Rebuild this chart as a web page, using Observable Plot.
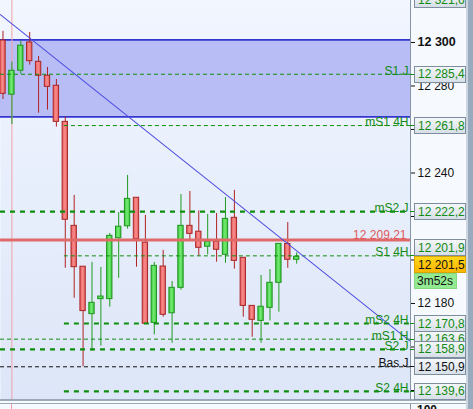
<!DOCTYPE html>
<html><head><meta charset="utf-8">
<script src="https://cdn.jsdelivr.net/npm/d3@7"></script>
<script src="https://cdn.jsdelivr.net/npm/@observablehq/plot@0.6"></script>
<style>
html,body{margin:0;padding:0;background:#f6f9fe;}
#chart{position:relative;width:473px;height:409px;overflow:hidden;}
svg{display:block;}
</style></head><body><div id="chart"></div>
<script>
// ---- Data ----
const opens  = [12300.9,12276.0,12287.0,12300.0,12291.1,12284.7,12280.1,12263.5,12215.7,12196.9,12175.1,12182.0,12182.0,12210.0,12215.5,12228.6,12208.0,12171.1,12197.0,12175.5,12187.2,12215.7,12213.0,12206.1,12208.4,12202.4,12219.4,12201.0,12178.9,12172.0,12178.0,12189.5,12207.4,12200.1];
const highs  = [12305.1,12291.0,12300.5,12304.6,12293.6,12288.5,12283.0,12265.7,12229.7,12196.9,12198.9,12196.6,12212.2,12221.8,12238.9,12228.6,12220.5,12198.9,12204.4,12190.1,12230.1,12231.5,12222.6,12220.9,12221.4,12228.7,12232.0,12201.0,12178.9,12192.9,12195.6,12207.4,12217.2,12203.3];
const lows   = [12273.8,12262.3,12285.4,12289.6,12267.5,12268.9,12261.1,12196.2,12182.4,12150.9,12158.1,12160.4,12178.3,12191.6,12214.2,12196.7,12170.7,12165.6,12173.7,12161.7,12186.1,12209.0,12201.7,12202.4,12199.0,12198.5,12195.8,12173.7,12164.5,12161.7,12172.0,12176.0,12196.2,12198.1];
const closes = [12276.4,12287.0,12298.5,12291.4,12284.7,12279.6,12263.5,12218.5,12196.7,12176.5,12180.3,12183.2,12211.1,12215.3,12228.1,12209.6,12170.7,12197.3,12174.8,12187.2,12215.7,12212.0,12205.6,12208.4,12204.7,12218.9,12199.6,12178.9,12172.5,12178.5,12189.5,12207.4,12200.1,12201.5];

const levelNames  = ["S1 J","mS1 4H","mS2 J","S1 4H","mS2 4H","mS1 H","S2 J","Bas J","S2 4H"];
const levelValues = [12285.4,12261.8,12222.2,12201.9,12170.8,12163.6,12158.9,12150.9,12139.6];
const resistanceValue = 12321.6;
const redLineValue = 12209.21;
const lastPrice = 12201.5;
const countdown = "3m52s";
const zoneLow = 12265.8, zoneHigh = 12301.2;
const trendIdx = [-0.3, 45.8];
const trendVal = [12312.8, 12162.5];
const sessionStartIdx = 1;   // vertical session separator
const fourHourStartIdx = 7;  // 4H levels begin at this candle
const yTicks = [12140,12160,12180,12200,12220,12240,12260,12280];
const yBoldTicks = [12300];

// ---- Build tables ----
const candles = opens.map((o,i)=>({i, open:o, high:highs[i], low:lows[i], close:closes[i]}));
const up = candles.filter(d=>d.close>=d.open);
const down = candles.filter(d=>d.close<d.open);
const levels = levelNames.map((n,k)=>({name:n, value:levelValues[k],
  thick:n.includes("2"), black:n.startsWith("Bas"), fourH:n.endsWith("4H")}));
const trend = trendIdx.map((x,k)=>({x, y:trendVal[k]}));

const GREEN = "#0d8f0d", GREEN_TXT = "#138a13";
const loc = d3.formatLocale({decimal:",", thousands:" ", grouping:[3], currency:["",""]});
const f0 = loc.format(",.0f"), f1 = loc.format(",.1f"), f2 = loc.format(",.2f");
const xMax = 45.79;

const lvlMarks = (sel, opts) => Plot.ruleY(sel, {y:"value", x1: d=>d.fourH ? fourHourStartIdx-0.1 : -0.28, x2: xMax, ...opts});

const plot = Plot.plot({
  width:473, height:409, marginLeft:0, marginRight:63, marginTop:0, marginBottom:9,
  x:{domain:[-0.28, xMax], axis:null},
  y:{domain:[12135.4, 12319.3], axis:null},
  style:{fontFamily:"Liberation Sans, Arial, sans-serif", fontSize:"12px", background:"transparent"},
  marks:[
    Plot.frame({fill:"url(#bgGrad)", stroke:"none"}),
    Plot.rect([{}], {x1:-0.28, x2:xMax, y1:zoneLow, y2:zoneHigh, fill:"#b8bef5"}),
    Plot.ruleY([zoneLow, zoneHigh], {stroke:"#3535d0", strokeWidth:1.6}),
    Plot.ruleX([sessionStartIdx], {stroke:"#f2a0a8", strokeWidth:1}),
    // wicks
    Plot.ruleX(down, {x:"i", y1:"low", y2:"high", stroke:"#b02222", strokeWidth:1}),
    Plot.ruleX(up, {x:"i", y1:"low", y2:"high", stroke:"#1f9a1f", strokeWidth:1}),
    // bodies
    Plot.rect(down, {x1:d=>d.i-0.3, x2:d=>d.i+0.3, y1:"open", y2:"close", fill:"url(#redBody)", stroke:"#a82626", strokeWidth:1}),
    Plot.rect(up, {x1:d=>d.i-0.3, x2:d=>d.i+0.3, y1:"open", y2:"close", fill:"url(#greenBody)", stroke:"#1e941e", strokeWidth:1}),
    // levels
    lvlMarks(levels.filter(d=>!d.thick && !d.black), {stroke:GREEN, strokeWidth:1, strokeDasharray:"4,3"}),
    lvlMarks(levels.filter(d=>d.black), {stroke:"#111", strokeWidth:1, strokeDasharray:"4,3"}),
    lvlMarks(levels.filter(d=>d.thick), {stroke:GREEN, strokeWidth:2.2, strokeDasharray:"5,5"}),
    Plot.ruleY([redLineValue], {stroke:"#e06a6a", strokeWidth:3}),
    // trendline
    Plot.line(trend, {x:"x", y:"y", stroke:"#4d4de0", strokeWidth:1.1, clip:true}),
    // level labels
    Plot.text(levels, {y:"value", text:"name", frameAnchor:"right", textAnchor:"end", lineAnchor:"bottom",
      dx:-2, dy:0.5, fill:d=>d.black ? "#111" : GREEN_TXT, fontSize:12}),
    Plot.text([redLineValue], {y:d=>d, text:d=>f2(d), frameAnchor:"right", textAnchor:"end", lineAnchor:"bottom",
      dx:-4, dy:-0.5, fill:"#e05a5a", fontSize:12}),
    // axis
    Plot.axisY({anchor:"right", ticks:yTicks, tickSize:4, tickPadding:3, tickFormat:f0, fontSize:12, color:"#111"}),
    Plot.axisY({anchor:"right", ticks:yBoldTicks, tickSize:4, tickPadding:3, tickFormat:f0, fontSize:12.5, fontWeight:"bold", color:"#111"})
  ]
});

const svg = d3.select(plot);
svg.insert("defs", ":first-child").html(`
  <linearGradient id="bgGrad" x1="0" y1="0" x2="0" y2="1">
    <stop offset="0" stop-color="#f1f6ff"/><stop offset="1" stop-color="#dde6f8"/></linearGradient>
  <linearGradient id="redBody" x1="0" y1="0" x2="1" y2="0">
    <stop offset="0" stop-color="#e85c5c"/><stop offset="0.5" stop-color="#f88c8c"/><stop offset="1" stop-color="#e85c5c"/></linearGradient>
  <linearGradient id="greenBody" x1="0" y1="0" x2="1" y2="0">
    <stop offset="0" stop-color="#3ccc3c"/><stop offset="0.5" stop-color="#74ea74"/><stop offset="1" stop-color="#3ccc3c"/></linearGradient>
  <linearGradient id="boxGrad" x1="0" y1="0" x2="0" y2="1">
    <stop offset="0" stop-color="#f5f8fb"/><stop offset="1" stop-color="#d6dee7"/></linearGradient>
  <linearGradient id="priceGrad" x1="0" y1="0" x2="0" y2="1">
    <stop offset="0" stop-color="#ffd81a"/><stop offset="1" stop-color="#ffb400"/></linearGradient>
`);

const yS = plot.scale("y");
const xPx = plot.scale("x").apply(xMax);
const ov = svg.append("g").attr("font-family","Liberation Sans, Arial, sans-serif").attr("font-size",12).attr("text-anchor","start");

// right axis line, bottom separators, scrollbar
ov.append("line").attr("x1",xPx+0.5).attr("x2",xPx+0.5).attr("y1",0).attr("y2",409).attr("stroke","#8496a8");
ov.append("rect").attr("x",0).attr("y",399.5).attr("width",473).attr("height",4.5).attr("fill","#f7faff");
ov.append("line").attr("x1",0).attr("x2",473).attr("y1",400).attr("y2",400).attr("stroke","#7f91a3").attr("stroke-width",1.5);
ov.append("line").attr("x1",0).attr("x2",473).attr("y1",403.5).attr("y2",403.5).attr("stroke","#9aaabb").attr("stroke-width",1);
ov.append("line").attr("x1",11.5).attr("x2",11.5).attr("y1",404).attr("y2",409).attr("stroke","#f2a0a8");
ov.append("text").attr("x",417).attr("y",414).attr("font-weight","bold").attr("fill","#111").text("100");

// price boxes
const boxes = [{value:resistanceValue, label:f1(resistanceValue), color:GREEN_TXT, line:GREEN}]
  .concat(levels.map(d=>({value:d.value, label:f1(d.value), color:d.black?"#111":GREEN_TXT, line:d.black?"#111":GREEN})))
  .concat([{value:lastPrice, label:f1(lastPrice), color:"#111", price:true}])
  .sort((a,b)=>b.value-a.value);
boxes.forEach(b=>{ b.ly = yS.apply(b.value); b.cy = Math.max(b.ly, -1); });
const pb = boxes.find(b=>b.price);
boxes.forEach(b=>{
  if (b!==pb && Math.abs(b.cy-pb.cy) < 17) {
    const mid = (b.cy+pb.cy)/2;
    if (b.value>pb.value){ b.cy = mid-8.5; pb.cy = mid+8.5; } else { b.cy = mid+8.5; pb.cy = mid-8.5; }
  }
});
boxes.forEach(b=>{
  if (!b.price) ov.append("line").attr("x1",xPx).attr("x2",xPx+5).attr("y1",Math.round(b.ly)+0.5).attr("y2",Math.round(b.ly)+0.5).attr("stroke",b.line);
  ov.append("rect").attr("x",414.5).attr("y",Math.round(b.cy-8)+0.5).attr("width",51).attr("height",16)
    .attr("fill", b.price ? "url(#priceGrad)" : "url(#boxGrad)").attr("stroke", b.price ? "#d9a300" : "#7e8e9e");
  ov.append("text").attr("x",418).attr("y",b.cy+4.5).attr("fill",b.color).text(b.label);
});
ov.append("rect").attr("x",414.5).attr("y",Math.round(pb.cy+9)+0.5).attr("width",42).attr("height",15)
  .attr("fill","#93ea93").attr("stroke","#84d884");
ov.append("text").attr("x",417).attr("y",pb.cy+21).attr("fill","#111").text(countdown);

ov.append("rect").attr("x",466).attr("y",0).attr("width",2).attr("height",409).attr("fill","#cdd6df");
ov.append("rect").attr("x",468).attr("y",0).attr("width",5).attr("height",409).attr("fill","#98aabd");

document.getElementById("chart").appendChild(plot);
</script></body></html>
